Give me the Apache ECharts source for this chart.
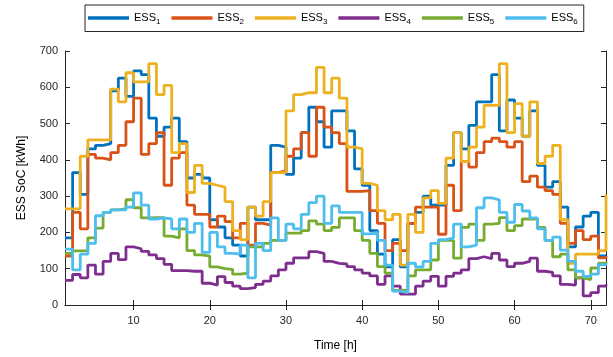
<!DOCTYPE html>
<html>
<head>
<meta charset="utf-8">
<title>ESS SoC</title>
<script src="https://cdn.jsdelivr.net/npm/echarts@6/dist/echarts.min.js"></script>
<style>
  html, body { margin: 0; padding: 0; background: #fff; }
  #chart { width: 613px; height: 357px; }
</style>
</head>
<body>
<div id="chart"></div>
<script>
// hours 1..72
const hours = Array.from({ length: 72 }, (_, i) => i + 1)
const xTicks = [10, 20, 30, 40, 50, 60, 70]
const seriesNames = ['ESS1', 'ESS2', 'ESS3', 'ESS4', 'ESS5', 'ESS6']
const seriesColors = ['#0072BD', '#D95319', '#EDB120', '#7E2F8E', '#77AC30', '#4DBEEE']

// state of charge per storage unit [kWh]
const ess1 = [185, 365, 305, 430, 440, 445, 590, 625, 575, 645, 635, 515,
  465, 490, 515, 450, 350, 360, 350, 235, 215, 185, 165, 135,
  270, 235, 235, 440, 435, 360, 405, 475, 545, 505, 435, 535,
  535, 480, 375, 330, 205, 140, 105, 180, 105, 225, 255, 300,
  275, 275, 385, 475, 430, 495, 560, 560, 635, 480, 565, 515,
  465, 535, 385, 325, 340, 270, 160, 215, 245, 255, 135, 135]
const ess2 = [135, 255, 210, 415, 405, 400, 420, 440, 505, 570, 415, 445,
  475, 330, 405, 420, 275, 250, 250, 215, 245, 230, 185, 225,
  165, 225, 220, 365, 370, 410, 430, 475, 410, 545, 490, 475,
  445, 313, 313, 315, 260, 225, 150, 170, 150, 225, 270, 270,
  270, 195, 330, 260, 395, 380, 420, 450, 460, 450, 435, 450,
  340, 355, 325, 315, 305, 225, 170, 205, 180, 190, 130, 135]
const ess3 = [265, 265, 410, 455, 455, 455, 595, 560, 640, 615, 615, 665,
  580, 605, 420, 445, 310, 385, 335, 330, 325, 285, 205, 180,
  270, 245, 285, 365, 365, 535, 580, 585, 585, 655, 585, 625,
  570, 435, 430, 335, 330, 260, 235, 250, 110, 250, 200, 295,
  315, 280, 405, 475, 395, 435, 490, 550, 550, 665, 475, 555,
  465, 560, 390, 410, 440, 235, 115, 140, 140, 140, 150, 305]
const ess4 = [68, 84, 75, 110, 85, 120, 142, 125, 160, 155, 148, 138,
  128, 112, 95, 95, 93, 93, 60, 55, 78, 62, 52, 45,
  48, 57, 66, 80, 97, 115, 130, 130, 147, 142, 120, 115,
  113, 106, 97, 88, 80, 57, 80, 52, 30, 30, 52, 66,
  79, 52, 79, 88, 97, 128, 133, 128, 142, 124, 106, 115,
  120, 129, 93, 90, 80, 57, 55, 75, 25, 34, 52, 57]
const ess5 = [142, 149, 150, 185, 212, 255, 262, 265, 290, 268, 240, 241,
  241, 190, 185, 210, 150, 138, 135, 105, 100, 98, 85, 88,
  160, 160, 170, 178, 178, 198, 198, 205, 232, 223, 205, 214,
  240, 240, 205, 178, 142, 106, 88, 40, 40, 80, 97, 97,
  124, 178, 178, 129, 214, 223, 178, 223, 225, 241, 205, 219,
  237, 237, 214, 178, 133, 140, 97, 75, 70, 102, 115, 120]
const ess6 = [154, 97, 140, 170, 246, 255, 262, 262, 270, 309, 275, 237,
  240, 237, 210, 237, 200, 225, 145, 200, 160, 142, 140, 165,
  75, 170, 150, 240, 178, 223, 210, 250, 282, 300, 225, 273,
  255, 255, 255, 196, 200, 178, 110, 38, 34, 115, 105, 120,
  170, 180, 185, 223, 160, 165, 268, 295, 290, 255, 228, 277,
  259, 240, 210, 178, 187, 151, 120, 93, 79, 85, 111, 115]

const allData = [ess1, ess2, ess3, ess4, ess5, ess6]

const fontFamily = "'Liberation Sans', Arial, sans-serif"
const axisColor = '#262626'

const chartInstance = echarts.init(document.getElementById('chart'), null, { renderer: 'canvas' })

// 框线四周都有刻度，朝内
const boxAxis = {
  axisLine: { show: true, lineStyle: { color: axisColor, width: 1 } },
  axisTick: { show: true, inside: true, length: 5, lineStyle: { color: axisColor } },
  splitLine: { show: false }
}
const xTick = { show: true, inside: true, length: 5, customValues: xTicks, lineStyle: { color: axisColor } }

const option = {
  animation: false,
  textStyle: { fontFamily: fontFamily },
  grid: { left: 65, top: 51, right: 7, bottom: 46, containLabel: false },
  legend: {
    left: 85,
    top: 5,
    orient: 'horizontal',
    icon: 'rect',
    itemWidth: 41,
    itemHeight: 3.5,
    itemGap: 11,
    padding: [6, 6, 6, 3],
    borderColor: axisColor,
    borderWidth: 1,
    backgroundColor: '#fff',
    data: seriesNames,
    formatter: (name) => 'ESS{sub|' + name.slice(3) + '}',
    textStyle: {
      color: '#000',
      fontSize: 11,
      lineHeight: 14,
      fontFamily: fontFamily,
      rich: {
        sub: { fontSize: 8, fontFamily: fontFamily, padding: [7, 0, 0, 0], color: '#000' }
      }
    }
  },
  xAxis: [
    Object.assign({
      type: 'value',
      min: 1,
      max: 72,
      name: 'Time [h]',
      nameLocation: 'middle',
      nameGap: 35,
      nameTextStyle: { color: '#000', fontSize: 12, fontFamily: fontFamily },
      axisLabel: { customValues: xTicks, color: axisColor, fontSize: 11, margin: 10, fontFamily: fontFamily }
    }, boxAxis, { axisTick: xTick }),
    Object.assign({
      type: 'value',
      min: 1,
      max: 72,
      position: 'top',
      axisLabel: { show: false }
    }, boxAxis, { axisTick: xTick })
  ],
  yAxis: [
    Object.assign({
      type: 'value',
      min: 0,
      max: 700,
      interval: 100,
      name: 'ESS SoC [kWh]',
      nameLocation: 'middle',
      nameGap: 37,
      nameTextStyle: { color: '#000', fontSize: 12, fontFamily: fontFamily },
      axisLabel: { color: axisColor, fontSize: 11, margin: 7, fontFamily: fontFamily }
    }, boxAxis),
    Object.assign({
      type: 'value',
      min: 0,
      max: 700,
      interval: 100,
      position: 'right',
      axisLabel: { show: false }
    }, boxAxis)
  ],
  series: allData.map((values, i) => ({
    name: seriesNames[i],
    type: 'line',
    step: 'end',
    showSymbol: false,
    symbol: 'none',
    data: hours.map((h, k) => [h, values[k]]),
    lineStyle: { color: seriesColors[i], width: 2.8 },
    itemStyle: { color: seriesColors[i] }
  }))
}

chartInstance.setOption(option)
</script>
</body>
</html>
